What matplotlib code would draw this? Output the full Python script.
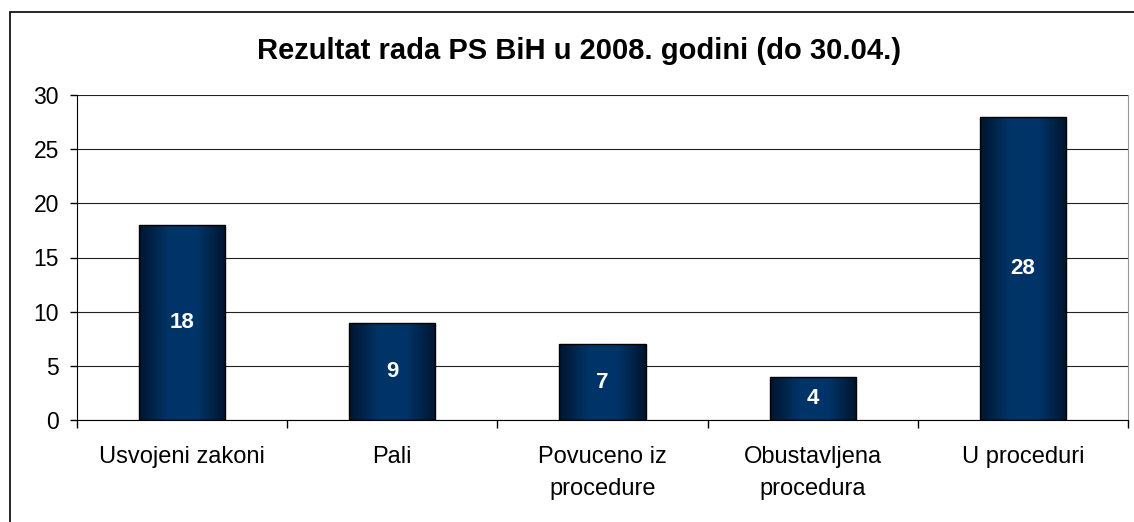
import matplotlib
matplotlib.use("Agg")
import matplotlib.pyplot as plt
import numpy as np
from matplotlib.patches import Rectangle
from matplotlib.colors import LinearSegmentedColormap

categories = ["Usvojeni zakoni", "Pali", "Povuceno iz\nprocedure", "Obustavljena\nprocedura", "U proceduri"]
values = [18, 9, 7, 4, 28]
title = "Rezultat rada PS BiH u 2008. godini (do 30.04.)"
yticks = [0, 5, 10, 15, 20, 25, 30]

plt.rcParams['font.family'] = ['Liberation Sans', 'DejaVu Sans']

fig = plt.figure(figsize=(11.34, 5.22), dpi=100)
W, H = 1134, 522
ax = fig.add_axes([77 / W, 1 - 420 / H, (1128 - 77) / W, (420 - 95) / H])

x = np.arange(len(categories))
bw = 0.41
bars = ax.bar(x, values, width=bw, color='none', edgecolor='black', linewidth=1.0, zorder=3)

cmap = LinearSegmentedColormap.from_list("g", ["#00152e", "#003366", "#003468", "#00152e"])
grad = np.linspace(0, 1, 256).reshape(1, -1)
for b in bars:
    bx, by = b.get_x(), b.get_y()
    bwid, bh = b.get_width(), b.get_height()
    im = ax.imshow(grad, cmap=cmap, aspect='auto', extent=[bx, bx + bwid, by, by + bh],
                   zorder=2, interpolation='bicubic')
    im.set_clip_path(b)
    ax.text(bx + bwid / 2, bh / 2, f"{int(bh)}", ha='center', va='center', color='white',
            fontsize=16, fontweight='bold', zorder=4)

ax.set_xlim(-0.5, len(categories) - 0.5)
ax.set_ylim(0, 30)
ax.set_yticks(yticks)
ax.tick_params(axis='y', labelsize=16.5, length=5, width=1, direction='out', pad=8)
ax.set_xticks(x)
ax.set_xticklabels(categories, fontsize=17, linespacing=1.55)
ax.tick_params(axis='x', length=0, pad=19)
ax.set_xticks(np.arange(-0.5, len(categories), 1), minor=True)
ax.tick_params(axis='x', which='minor', length=6, width=1, direction='out')
ax.grid(axis='y', color='#222222', linewidth=0.8, zorder=0)
ax.set_axisbelow(True)
ax.spines['top'].set_visible(False)
ax.spines['right'].set_color('#999999')
ax.spines['left'].set_color('black')
ax.spines['bottom'].set_color('black')

fig.text(579 / W, 1 - 51 / H, title, ha='center', va='center', fontsize=21, fontweight='bold')

fig.patches.append(Rectangle((10 / W, -0.1), 1.2, 1 - 12 / H + 0.1,
                             transform=fig.transFigure, fill=False, edgecolor='black',
                             linewidth=1.2, figure=fig))

fig.savefig("out.png", dpi=100)
